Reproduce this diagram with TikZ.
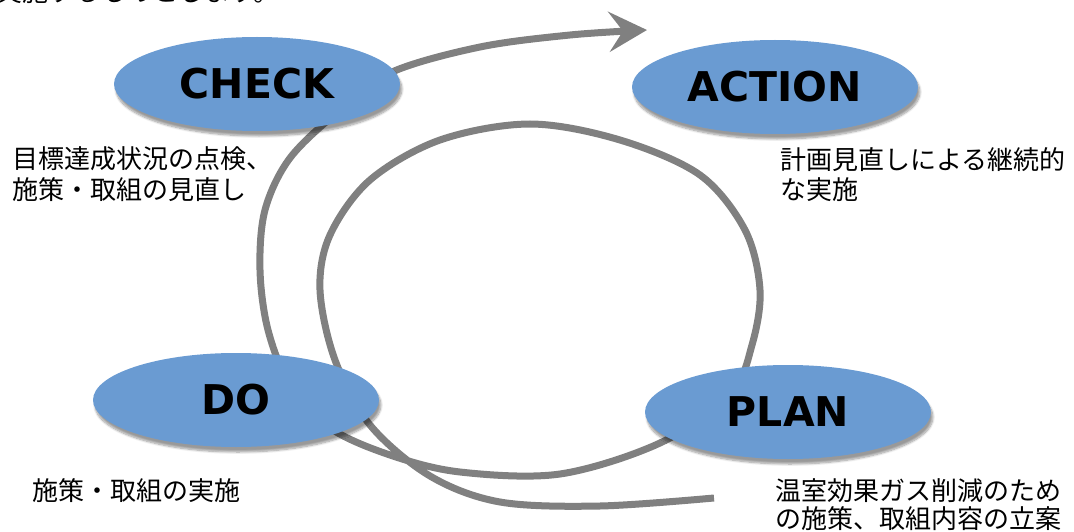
\documentclass[tikz,border=0pt]{standalone}
\usepackage{fontspec}
\setmainfont{DejaVu Sans}
\newfontfamily\jpfont{Noto Sans CJK JP}
\usetikzlibrary{shapes.geometric,arrows.meta,shadows.blur}
\definecolor{pdcablue}{RGB}{106,155,210}
\definecolor{spiralgray}{RGB}{128,128,128}
\begin{document}
\begin{tikzpicture}[x=1pt,y=-1pt,
  phasebox/.style={ellipse, fill=pdcablue, minimum width=286pt, minimum height=94pt, inner sep=0pt,
    font=\fontsize{41}{48}\selectfont\bfseries, text=black,
    blur shadow={shadow xshift=2pt, shadow yshift=-5pt, shadow blur steps=8, shadow opacity=40}},
  desctext/.style={anchor=base west, inner sep=0pt, font=\jpfont\fontsize{26}{31}\selectfont},
  spiralline/.style={draw=spiralgray, line width=7pt}]
\useasboundingbox (0,0) rectangle (1074,532);
\begin{scope}
  \clip (0,0) rectangle (1074,532);
  \node[desctext] (toptext) at (-4,2) {実施するものとします。};
\end{scope}
\coordinate (s) at (714,498);
\coordinate (tip) at (647,30);
\draw[spiralline, -{Stealth[length=38pt,width=40pt,inset=14pt]}]
  plot[smooth, tension=0.55] coordinates {(s) (600,506) (500,502) (430,476) (370,425)
  (335,360) (320,290) (330,235) (370,180) (440,140) (530,124) (620,140) (700,175)
  (745,230) (760,290) (752,345) (730,395) (660,443) (560,474) (460,472) (390,455)
  (330,428) (290,385) (268,330) (260,270) (265,210) (290,158) (340,110) (392,72)
  (480,47) (570,35) (tip)};
\node[phasebox] (check) at (257,84) {CHECK};
\node[phasebox] (action) at (775,87) {ACTION};
\node[phasebox] (do) at (236,400) {DO};
\node[phasebox] (plan) at (788,412) {PLAN};
\node[desctext] (c1) at (12,169) {目標達成状況の点検、};
\node[desctext] (c2) at (12,200) {施策・取組の見直し};
\node[desctext] (a1) at (780,170) {計画見直しによる継続的};
\node[desctext] (a2) at (780,200) {な実施};
\node[desctext] (d1) at (32,500) {施策・取組の実施};
\node[desctext] (p1) at (775,500) {温室効果ガス削減のため};
\node[desctext] (p2) at (775,528) {の施策、取組内容の立案};
\end{tikzpicture}
\end{document}
